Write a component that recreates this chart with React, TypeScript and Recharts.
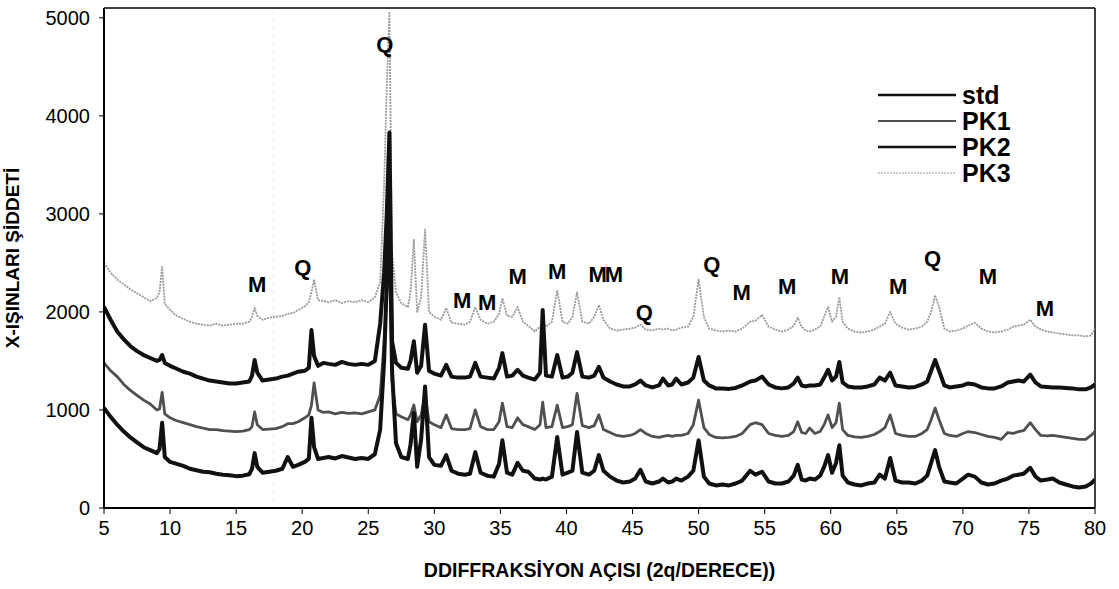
import { LineChart, Line, XAxis, YAxis, ReferenceLine, ReferenceDot } from "recharts";

const FONT = '"Liberation Sans", Arial, sans-serif';

// 2-theta positions (degrees)
const angles = [
  5, 5.5, 6, 6.5, 7, 7.5, 8, 8.5, 9, 9.2,
  9.4, 9.6, 10, 10.5, 11, 11.5, 12, 12.5, 13, 13.5,
  14, 14.5, 15, 15.5, 16, 16.2, 16.4, 16.6, 17, 17.5,
  18, 18.5, 18.9, 19.3, 19.7, 20.2, 20.5, 20.7, 20.9, 21.2,
  21.6, 22, 22.5, 23, 23.5, 24, 24.5, 25, 25.5, 25.9,
  26.2, 26.4, 26.6, 26.8, 27.1, 27.5, 28, 28.2, 28.45, 28.7,
  29.0, 29.3, 29.6, 30, 30.5, 30.9, 31.3, 31.8, 32.3, 32.7,
  33.1, 33.5, 34, 34.5, 34.9, 35.15, 35.5, 35.9, 36.3, 36.7,
  37.1, 37.6, 38.0, 38.2, 38.45, 38.9, 39.3, 39.7, 40.1, 40.45,
  40.8, 41.2, 41.7, 42.1, 42.45, 42.8, 43.3, 43.8, 44.3, 44.8,
  45.2, 45.6, 46.0, 46.5, 47.0, 47.3, 47.7, 48.0, 48.3, 48.7,
  49.2, 49.6, 50.0, 50.4, 50.8, 51.3, 51.8, 52.3, 52.8, 53.3,
  53.9, 54.3, 54.8, 55.3, 55.8, 56.3, 56.8, 57.2, 57.5, 57.8,
  58.1, 58.4, 58.8, 59.2, 59.5, 59.8, 60.1, 60.4, 60.65, 60.9,
  61.3, 61.8, 62.3, 62.8, 63.3, 63.7, 64.1, 64.5, 64.9, 65.4,
  65.9, 66.4, 66.9, 67.3, 67.6, 67.9, 68.2, 68.6, 69.0, 69.5,
  70.0, 70.4, 70.9, 71.4, 71.9, 72.4, 72.9, 73.4, 73.8, 74.2,
  74.6, 75.1, 75.5, 75.9, 76.4, 76.8, 77.3, 77.8, 78.3, 78.8,
  79.3, 79.7, 80,
];

const stdValues = [
  1020, 930, 850, 780, 720, 670, 620, 590, 560, 600,
  870, 520, 470, 450, 430, 400, 385, 370, 365, 350,
  340, 335, 325, 330, 345, 400, 560, 420, 360, 370,
  380, 400, 520, 420, 440, 470, 500, 920, 620, 500,
  510, 520, 505, 530, 515, 500, 510, 500, 550, 800,
  1500, 2300, 3100, 1400, 660, 520, 500, 650, 970, 420,
  700, 1240, 520, 440, 430, 540, 380, 350, 340, 350,
  570, 360, 330, 320, 450, 690, 360, 340, 460, 380,
  370, 300, 290, 300, 290, 320, 725, 340, 360, 380,
  775, 360, 340, 380, 540, 380, 320, 280, 260, 270,
  300, 390, 270, 250, 270, 300, 260, 270, 300, 280,
  320, 380, 690, 320, 250, 230, 240, 230, 250, 280,
  380, 340, 370, 270, 250, 250, 270, 330, 440, 290,
  280, 300, 290, 330, 420, 540, 360, 460, 640, 330,
  260, 240, 230, 250, 260, 340, 300, 510, 280, 260,
  260, 250, 280, 330, 460, 590, 420, 270, 260, 250,
  300, 340, 320, 260, 240, 250, 280, 300, 330, 340,
  350, 410, 320, 280, 290, 300, 260, 240, 220, 210,
  220, 250, 290,
];

const pk1Values = [
  1480, 1400, 1340, 1260, 1200, 1150, 1100, 1060, 1000, 1010,
  1180, 960, 920, 890, 870, 850, 830, 815, 800, 800,
  790, 785, 780, 785, 800, 830, 980, 850, 800, 805,
  810, 830, 860, 860, 880, 920, 950, 1050, 1275, 1000,
  975, 980, 960, 975, 965, 970, 960, 980, 1000, 1150,
  1700, 2200, 2800, 1300, 960, 930, 900, 950, 1050, 880,
  950, 1150, 880, 850, 820, 950, 810, 800, 800, 810,
  1000, 830, 800, 800, 880, 1070, 830, 820, 920, 850,
  830, 800, 850, 1080, 820, 830, 1050, 820, 830, 850,
  1170, 840, 820, 840, 950, 800, 770, 740, 730, 740,
  760, 800, 760, 730, 720, 730, 740, 730, 740, 740,
  760, 850, 1100, 820, 750, 720, 715, 720, 730, 760,
  850, 870, 850, 760, 740, 730, 740, 780, 880, 770,
  760, 815, 760, 780, 850, 950, 820, 870, 1070, 800,
  740, 725, 720, 730, 750, 780, 820, 950, 760, 740,
  730, 730, 760, 800, 900, 1020, 900, 760, 740, 730,
  760, 780, 770, 750, 730, 720, 700, 770, 760, 780,
  790, 870, 800, 740, 735, 740, 730, 720, 710, 700,
  700, 740, 780,
];

const pk2Values = [
  2050, 1920, 1800, 1720, 1650, 1600, 1560, 1530, 1500, 1510,
  1560, 1480, 1450, 1420, 1390, 1370, 1340, 1320, 1300, 1290,
  1280, 1270, 1270, 1280, 1290, 1350, 1510, 1380, 1300, 1310,
  1320, 1340, 1350, 1370, 1390, 1400, 1430, 1815, 1550, 1450,
  1480, 1470, 1460, 1490, 1470, 1460, 1470, 1460, 1500, 1880,
  2400, 3000, 3830, 1700, 1480, 1430, 1420, 1500, 1700, 1380,
  1450, 1870, 1400, 1370, 1350, 1460, 1340, 1330, 1330, 1340,
  1480, 1340, 1330, 1320, 1430, 1580, 1340, 1350, 1410, 1350,
  1330, 1310, 1380, 2020, 1350, 1340, 1560, 1330, 1340, 1380,
  1590, 1340, 1330, 1350, 1440, 1330, 1290, 1260, 1240, 1240,
  1260, 1300, 1250, 1230, 1250, 1320, 1250, 1260, 1320, 1260,
  1280, 1330, 1540, 1300, 1250, 1220, 1220, 1215, 1225, 1250,
  1290, 1300, 1340, 1260, 1230, 1220, 1230, 1270, 1330, 1250,
  1240, 1250, 1250, 1260, 1330, 1410, 1300, 1340, 1490, 1280,
  1240, 1230, 1230, 1240, 1260, 1330, 1300, 1380, 1250, 1240,
  1230, 1235, 1260, 1290, 1400, 1510, 1400, 1250, 1230, 1240,
  1250, 1270, 1260, 1230, 1220, 1220, 1240, 1280, 1290, 1300,
  1290, 1360, 1280, 1240, 1235, 1230, 1230, 1225, 1220, 1210,
  1210, 1230, 1260,
];

const pk3Values = [
  2500, 2400, 2330, 2280, 2230, 2190, 2150, 2110, 2140, 2200,
  2460, 2080, 2020, 1960, 1930, 1900, 1880, 1870, 1860, 1880,
  1860, 1870, 1880, 1880, 1900, 1950, 2040, 1960, 1920, 1940,
  1950, 1960, 1980, 1990, 2020, 2060, 2100, 2200, 2330, 2120,
  2110, 2100, 2120, 2090, 2110, 2100, 2120, 2100, 2150, 2300,
  3300, 4300, 5050, 2600, 2200, 2090, 2050, 2200, 2735, 2000,
  2150, 2840, 2000, 1950, 1920, 2040, 1890, 1880, 1870, 1900,
  2050, 1920, 1880, 1900, 1980, 2140, 1960, 1950, 2050, 1900,
  1860, 1800, 1850, 1880, 1850, 1900, 2220, 1900, 1880, 1950,
  2200, 1900, 1880, 1950, 2070, 1920, 1830, 1810, 1820, 1830,
  1840, 1870, 1820, 1810, 1830, 1820, 1830, 1810, 1820, 1840,
  1850, 1950, 2330, 1950, 1830, 1810, 1800, 1810, 1800, 1830,
  1900, 1910, 1970, 1850, 1820, 1800, 1820, 1860, 1940, 1850,
  1810, 1800, 1820, 1850, 1950, 2050, 1900, 1950, 2150, 1900,
  1830, 1800, 1790, 1800, 1820, 1850, 1880, 2000, 1880, 1840,
  1820, 1830, 1850, 1900, 2000, 2170, 2050, 1830, 1800, 1810,
  1830, 1860, 1890, 1830, 1800, 1790, 1800, 1820, 1850, 1860,
  1870, 1920, 1850, 1820, 1800, 1790, 1780, 1770, 1760, 1760,
  1750, 1760, 1830,
];

// phase labels above the peaks
const peakLabels = ["M", "Q", "Q", "M", "M", "M", "M", "MM", "Q", "Q", "M", "M", "M", "M", "Q", "M", "M"];
const peakLabelAngles = [16.6, 20.05, 26.25, 32.1, 34.0, 36.3, 39.3, 42.9, 45.9, 51.0, 53.25, 56.7, 60.7, 65.1, 67.7, 71.9, 76.2];
const peakLabelLevels = [2275, 2450, 4725, 2120, 2100, 2360, 2410, 2380, 1990, 2480, 2200, 2255, 2360, 2255, 2550, 2360, 2040];

const xTicks = [5, 10, 15, 20, 25, 30, 35, 40, 45, 50, 55, 60, 65, 70, 75, 80];
const yTicks = [0, 1000, 2000, 3000, 4000, 5000];

const seriesStyles = [
  { key: "std", stroke: "#111", width: 4, dash: undefined },
  { key: "PK1", stroke: "#505050", width: 2.8, dash: undefined },
  { key: "PK2", stroke: "#111", width: 4, dash: undefined },
  { key: "PK3", stroke: "#9a9a9a", width: 1.8, dash: "2 1" },
];

const data = angles.map((angle, i) => ({
  angle,
  std: stdValues[i],
  PK1: pk1Values[i],
  PK2: pk2Values[i],
  PK3: pk3Values[i],
}));

const LegendBox = () => (
  <svg width={140} height={110} style={{ position: "absolute", left: 878, top: 80, overflow: "visible" }}>
    {seriesStyles.map((s, i) => (
      <g key={s.key}>
        <line
          x1={0}
          x2={78}
          y1={15 + i * 26}
          y2={15 + i * 26}
          stroke={s.stroke}
          strokeWidth={s.key === "PK3" ? 1.2 : s.key === "PK1" ? 1.8 : 2.4}
          strokeDasharray={s.dash}
        />
        <text x={84} y={15 + i * 26} dominantBaseline="central" fontSize={25} fontWeight="bold" fontFamily={FONT} fill="#000">
          {s.key}
        </text>
      </g>
    ))}
  </svg>
);

const App = () => {
  return (
    <div style={{ position: "absolute", left: 0, top: 0, width: 1119, height: 589, background: "#fff" }}>
      <LineChart width={1119} height={589} data={data} margin={{ top: 8, right: 24, bottom: 0, left: 0 }}>
        <XAxis
          dataKey="angle"
          type="number"
          domain={[5, 80]}
          ticks={xTicks}
          allowDataOverflow
          height={81}
          tickSize={6}
          tickMargin={7}
          axisLine={{ stroke: "#000", strokeWidth: 2 }}
          tickLine={{ stroke: "#000" }}
          tick={{ fill: "#000", fontSize: 20, fontFamily: FONT }}
          label={{
            value: "DDIFFRAKSİYON AÇISI (2q/DERECE))",
            position: "insideBottom",
            offset: 12,
            fill: "#000",
            fontSize: 19.5,
            fontWeight: "bold",
            fontFamily: FONT,
          }}
        />
        <YAxis
          type="number"
          domain={[0, 5100]}
          ticks={yTicks}
          allowDataOverflow
          width={104}
          tickSize={5}
          tickMargin={9}
          axisLine={{ stroke: "#000", strokeWidth: 2 }}
          tickLine={{ stroke: "#000" }}
          tick={{ fill: "#000", fontSize: 20, fontFamily: FONT }}
          label={{
            value: "X-IŞINLARI ŞİDDETİ",
            angle: -90,
            position: "insideLeft",
            offset: 12,
            fill: "#000",
            fontSize: 19,
            fontWeight: "bold",
            fontFamily: FONT,
            style: { textAnchor: "middle" },
          }}
        />
        <ReferenceLine y={5100} stroke="#000" strokeWidth={1.5} />
        <ReferenceLine x={80} stroke="#000" strokeWidth={1.5} />
        <ReferenceLine x={17.8} stroke="#c8c8c8" strokeDasharray="1 7" />
        {[...seriesStyles].reverse().map((s) => (
          <Line
            key={s.key}
            type="linear"
            dataKey={s.key}
            stroke={s.stroke}
            strokeWidth={s.width}
            strokeDasharray={s.dash}
            strokeLinejoin="round"
            dot={false}
            activeDot={false}
            isAnimationActive={false}
          />
        ))}
        {peakLabels.map((t, i) => (
          <ReferenceDot
            key={i}
            x={peakLabelAngles[i]}
            y={peakLabelLevels[i]}
            r={0}
            shape={(p: any) => (
              <text
                x={p.cx}
                y={p.cy}
                textAnchor="middle"
                dominantBaseline="central"
                fontSize={22}
                fontWeight="bold"
                fontFamily={FONT}
                fill="#000"
                letterSpacing={t.length > 1 ? -2 : 0}
              >
                {t}
              </text>
            )}
          />
        ))}
      </LineChart>
      <LegendBox />
    </div>
  );
};

export default App;
